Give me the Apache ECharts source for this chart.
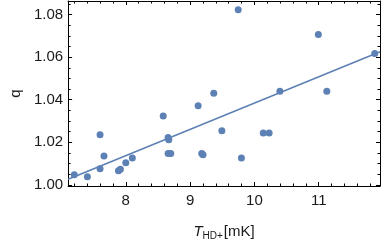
<!DOCTYPE html>
<html>
<head>
<meta charset="utf-8">
<script src="https://cdn.jsdelivr.net/npm/echarts@6/dist/echarts.min.js"></script>
<style>html,body{margin:0;padding:0;background:#fff}#c{width:382px;height:246px}</style>
</head>
<body>
<div id="c"></div>
<script>
// Data
var tempMK = [7.199, 7.403, 7.600, 7.661, 7.600, 7.886, 7.916, 8.000, 8.102, 8.582, 8.658, 8.669, 8.658, 8.699, 9.125, 9.368, 9.181, 9.201, 9.494, 9.798, 9.748, 10.138, 10.229, 10.397, 10.994, 11.126, 11.871];
var qValues = [1.0048, 1.0038, 1.0235, 1.0136, 1.0076, 1.0066, 1.0073, 1.0104, 1.0126, 1.0324, 1.0223, 1.0212, 1.0147, 1.0147, 1.0372, 1.0431, 1.0147, 1.0141, 1.0254, 1.0126, 1.0823, 1.0244, 1.0244, 1.0440, 1.0706, 1.0440, 1.0617];
// Linear fit line end points
var fitX = [7.103, 11.953];
var fitQ = [1.0026, 1.0625];
// Ticks
var xMajorTicks = [8, 9, 10, 11];
var xTickLabels = ['8', '9', '10', '11'];
var xMinorTicks = [7.2, 7.4, 7.6, 7.8, 8.2, 8.4, 8.6, 8.8, 9.2, 9.4, 9.6, 9.8, 10.2, 10.4, 10.6, 10.8, 11.2, 11.4, 11.6, 11.8];
var yMajorTicks = [1.00, 1.02, 1.04, 1.06, 1.08];
var yTickLabels = ['1.00', '1.02', '1.04', '1.06', '1.08'];
var yMinorTicks = [1.005, 1.010, 1.015, 1.025, 1.030, 1.035, 1.045, 1.050, 1.055, 1.065, 1.070, 1.075, 1.085];

var X_MIN = 7.103, X_MAX = 11.953, Y_MIN = 0.99947, Y_MAX = 1.0864;
var BLUE = '#5E81B5';
var TXT = '#1a1a1a';

function xAx(pos, major, labels) {
  return {
    type: 'value', position: pos, min: X_MIN, max: X_MAX,
    axisLine: {show: major, onZero: false, lineStyle: {color: '#000', width: 1}},
    axisTick: {show: true, inside: true, length: major ? 4 : 2.5, lineStyle: {color: '#000', width: 1},
      customValues: major ? xMajorTicks : xMinorTicks},
    axisLabel: {show: labels, customValues: xMajorTicks, color: TXT, fontSize: 15, fontFamily: 'Liberation Sans, Arial', margin: 7,
      formatter: function (v) { var i = xMajorTicks.indexOf(Math.round(v * 1000) / 1000); return i >= 0 ? xTickLabels[i] : ''; }},
    splitLine: {show: false}
  };
}
function yAx(pos, major, labels) {
  return {
    type: 'value', position: pos, min: Y_MIN, max: Y_MAX,
    axisLine: {show: major, onZero: false, lineStyle: {color: '#000', width: 1}},
    axisTick: {show: true, inside: true, length: major ? 4 : 2.5, lineStyle: {color: '#000', width: 1},
      customValues: major ? yMajorTicks : yMinorTicks},
    axisLabel: {show: labels, customValues: yMajorTicks, color: TXT, fontSize: 15, fontFamily: 'Liberation Sans, Arial', margin: 5,
      formatter: function (v) { var i = yMajorTicks.indexOf(Math.round(v * 1000) / 1000); return i >= 0 ? yTickLabels[i] : ''; }},
    splitLine: {show: false}
  };
}

var xAxes = [xAx('bottom', true, true), xAx('bottom', false, false), xAx('top', true, false), xAx('top', false, false)];
var yAxes = [yAx('left', true, true), yAx('left', false, false), yAx('right', true, false), yAx('right', false, false)];

xAxes[0].name = '{t|T}{s|HD+}{n|[mK]}';
xAxes[0].nameLocation = 'middle';
xAxes[0].nameGap = 38;
xAxes[0].nameTextStyle = {
  rich: {
    t: {fontSize: 15, fontStyle: 'italic', fontFamily: 'Liberation Sans, Arial', color: TXT, verticalAlign: 'top', lineHeight: 17},
    s: {fontSize: 10, fontFamily: 'Liberation Sans, Arial', color: TXT, verticalAlign: 'bottom', lineHeight: 10, padding: [0, 1, 0, 0]},
    n: {fontSize: 15, fontFamily: 'Liberation Sans, Arial', color: TXT, verticalAlign: 'top', lineHeight: 17}
  }
};
yAxes[0].name = 'q';
yAxes[0].nameLocation = 'middle';
yAxes[0].nameGap = 45;
yAxes[0].nameTextStyle = {fontSize: 15, fontFamily: 'Liberation Sans, Arial', color: TXT};

var pts = tempMK.map(function (x, i) { return [x, qValues[i]]; });
var fit = fitX.map(function (x, i) { return [x, fitQ[i]]; });

var chart = echarts.init(document.getElementById('c'), null, {renderer: 'canvas'});
chart.setOption({
  animation: false,
  grid: {left: 61, top: 1, width: 319, height: 197},
  xAxis: xAxes,
  yAxis: yAxes,
  series: [
    {type: 'line', data: fit, xAxisIndex: 0, yAxisIndex: 0, symbol: 'none', lineStyle: {color: BLUE, width: 1.6}, z: 2},
    {type: 'scatter', data: pts, xAxisIndex: 0, yAxisIndex: 0, symbolSize: 7, itemStyle: {color: BLUE, opacity: 1}, z: 3}
  ]
});
</script>
</body>
</html>
